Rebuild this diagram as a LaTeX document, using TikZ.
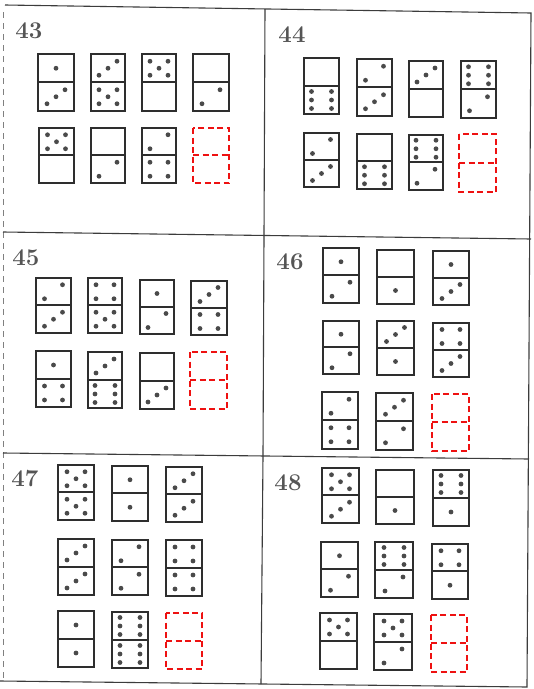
\documentclass[tikz,border=0pt]{standalone}
\definecolor{framec}{HTML}{3C3C3C}
\definecolor{domc}{HTML}{2E2E2E}
\definecolor{pipc}{HTML}{4A4A4A}
\definecolor{numc}{HTML}{555555}
\definecolor{redc}{HTML}{EE1111}
\tikzset{
  domline/.style={draw=domc,line width=1.4pt},
  pipfill/.style={fill=pipc},
  redbox/.style={draw=redc,line width=1.5pt,dash pattern=on 6pt off 3.5pt},
  frameline/.style={draw=framec,line width=1.1pt},
  cutline/.style={draw=gray,line width=0.8pt,dash pattern=on 6pt off 5pt},
  lbl/.style={text=numc,font=\fontsize{24}{24}\selectfont\bfseries,inner sep=0pt}
}
\newcommand\pp[2]{\fill[pipfill] ({#1},{#2}) circle[radius=2.4pt];}
\newcommand\halfpips[3]{%
  \ifcase#1\relax
  \or \pp{#2}{#3}%
  \or \pp{#2+9}{#3-7}\pp{#2-9}{#3+7}%
  \or \pp{#2-9}{#3+7}\pp{#2}{#3}\pp{#2+9}{#3-7}%
  \or \pp{#2-9}{#3-7}\pp{#2+9}{#3-7}\pp{#2-9}{#3+7}\pp{#2+9}{#3+7}%
  \or \pp{#2-9}{#3-7}\pp{#2+9}{#3-7}\pp{#2-9}{#3+7}\pp{#2+9}{#3+7}\pp{#2}{#3}%
  \or \pp{#2-10}{#3-8.5}\pp{#2+10}{#3-8.5}\pp{#2-10}{#3}\pp{#2+10}{#3}\pp{#2-10}{#3+8.5}\pp{#2+10}{#3+8.5}%
  \fi}
\newcommand\dom[6]{%
  \pgfmathtruncatemacro\midy{(#2+#4)/2}
  \draw[domline] (#1,#2) rectangle (#3,#4);
  \draw[domline] (#1,\midy) -- (#3,\midy);
  \halfpips{#5}{(#1+#3)/2}{(3*#2+#4)/4}
  \halfpips{#6}{(#1+#3)/2}{(#2+3*#4)/4}}
\newcommand\blankdom[4]{%
  \pgfmathtruncatemacro\midy{(#2+#4)/2}
  \draw[redbox] (#1,#2) rectangle (#3,#4);
  \draw[redbox] (#1,\midy) -- (#3,\midy);}
\begin{document}
\begin{tikzpicture}[x=1pt,y=-1pt]
\useasboundingbox (0,0) rectangle (534,689);
\fill[white] (0,0) rectangle (534,689);
% frame
\coordinate (tl) at (5,5);
\coordinate (tr) at (531,13);
\coordinate (br) at (527,687);
\coordinate (bl) at (0,681);
\draw[frameline] (tl) -- (tr) -- (br) -- (bl);
\draw[cutline] (3,12) -- (3,680);
\coordinate (h1l) at (3,232);
\coordinate (h1r) at (531,239);
\coordinate (h2l) at (3,453);
\coordinate (h2r) at (529,459);
\draw[frameline] (h1l) -- (h1r);
\draw[frameline] (h2l) -- (h2r);
\coordinate (v1a) at (265,9);
\coordinate (v1b) at (264,236);
\coordinate (v2b) at (263,456);
\coordinate (v3b) at (261,684);
\draw[frameline] (v1a) -- (v1b) -- (v2b) -- (v3b);
% labels
\node[lbl] (n43) at (29,31) {43};
\node[lbl] (n44) at (292,35) {44};
\node[lbl] (n45) at (26,258) {45};
\node[lbl] (n46) at (290,262) {46};
\node[lbl] (n47) at (25,479) {47};
\node[lbl] (n48) at (288,483) {48};
% 43
\dom{38}{54}{74}{111}{1}{3}
\dom{91}{54}{125}{111}{3}{5}
\dom{142}{54}{176}{111}{5}{0}
\dom{193}{54}{229}{111}{0}{2}
\dom{39}{128}{74}{183}{5}{0}
\dom{91}{128}{125}{183}{0}{2}
\dom{142}{128}{176}{183}{2}{4}
\blankdom{193}{128}{229}{183}
% 44
\dom{304}{58}{339}{114}{0}{6}
\dom{357}{59}{392}{116}{2}{3}
\dom{409}{61}{443}{117}{3}{0}
\dom{461}{61}{496}{118}{6}{2}
\dom{304}{133}{339}{187}{2}{3}
\dom{357}{134}{392}{189}{0}{6}
\dom{409}{135}{443}{190}{6}{2}
\blankdom{459}{134}{496}{192}
% 45
\dom{36}{278}{71}{333}{2}{3}
\dom{88}{278}{122}{333}{4}{5}
\dom{140}{280}{174}{334}{1}{2}
\dom{191}{281}{227}{335}{3}{4}
\dom{36}{351}{71}{407}{1}{4}
\dom{88}{352}{122}{408}{3}{6}
\dom{140}{353}{174}{409}{0}{3}
\blankdom{190}{352}{227}{409}
% 46
\dom{323}{248}{359}{303}{1}{2}
\dom{377}{250}{414}{304}{0}{1}
\dom{433}{251}{469}{305}{1}{3}
\dom{323}{321}{359}{374}{1}{2}
\dom{377}{321}{414}{375}{3}{1}
\dom{433}{323}{469}{377}{4}{3}
\dom{322}{392}{358}{449}{2}{4}
\dom{376}{393}{413}{450}{3}{2}
\blankdom{432}{394}{469}{451}
% 47
\dom{58}{465}{94}{520}{5}{5}
\dom{112}{466}{148}{521}{1}{1}
\dom{166}{467}{202}{522}{3}{3}
\dom{58}{539}{94}{595}{3}{3}
\dom{112}{540}{148}{595}{2}{2}
\dom{166}{540}{202}{596}{4}{4}
\dom{58}{611}{94}{667}{1}{1}
\dom{112}{612}{148}{668}{6}{6}
\blankdom{166}{613}{202}{669}
% 48
\dom{322}{468}{359}{523}{5}{3}
\dom{376}{470}{414}{524}{0}{1}
\dom{433}{470}{469}{526}{6}{1}
\dom{321}{542}{358}{597}{1}{2}
\dom{375}{542}{413}{598}{6}{2}
\dom{432}{544}{468}{599}{4}{1}
\dom{320}{613}{357}{669}{5}{0}
\dom{374}{614}{412}{670}{5}{2}
\blankdom{431}{615}{467}{672}
\end{tikzpicture}
\end{document}
